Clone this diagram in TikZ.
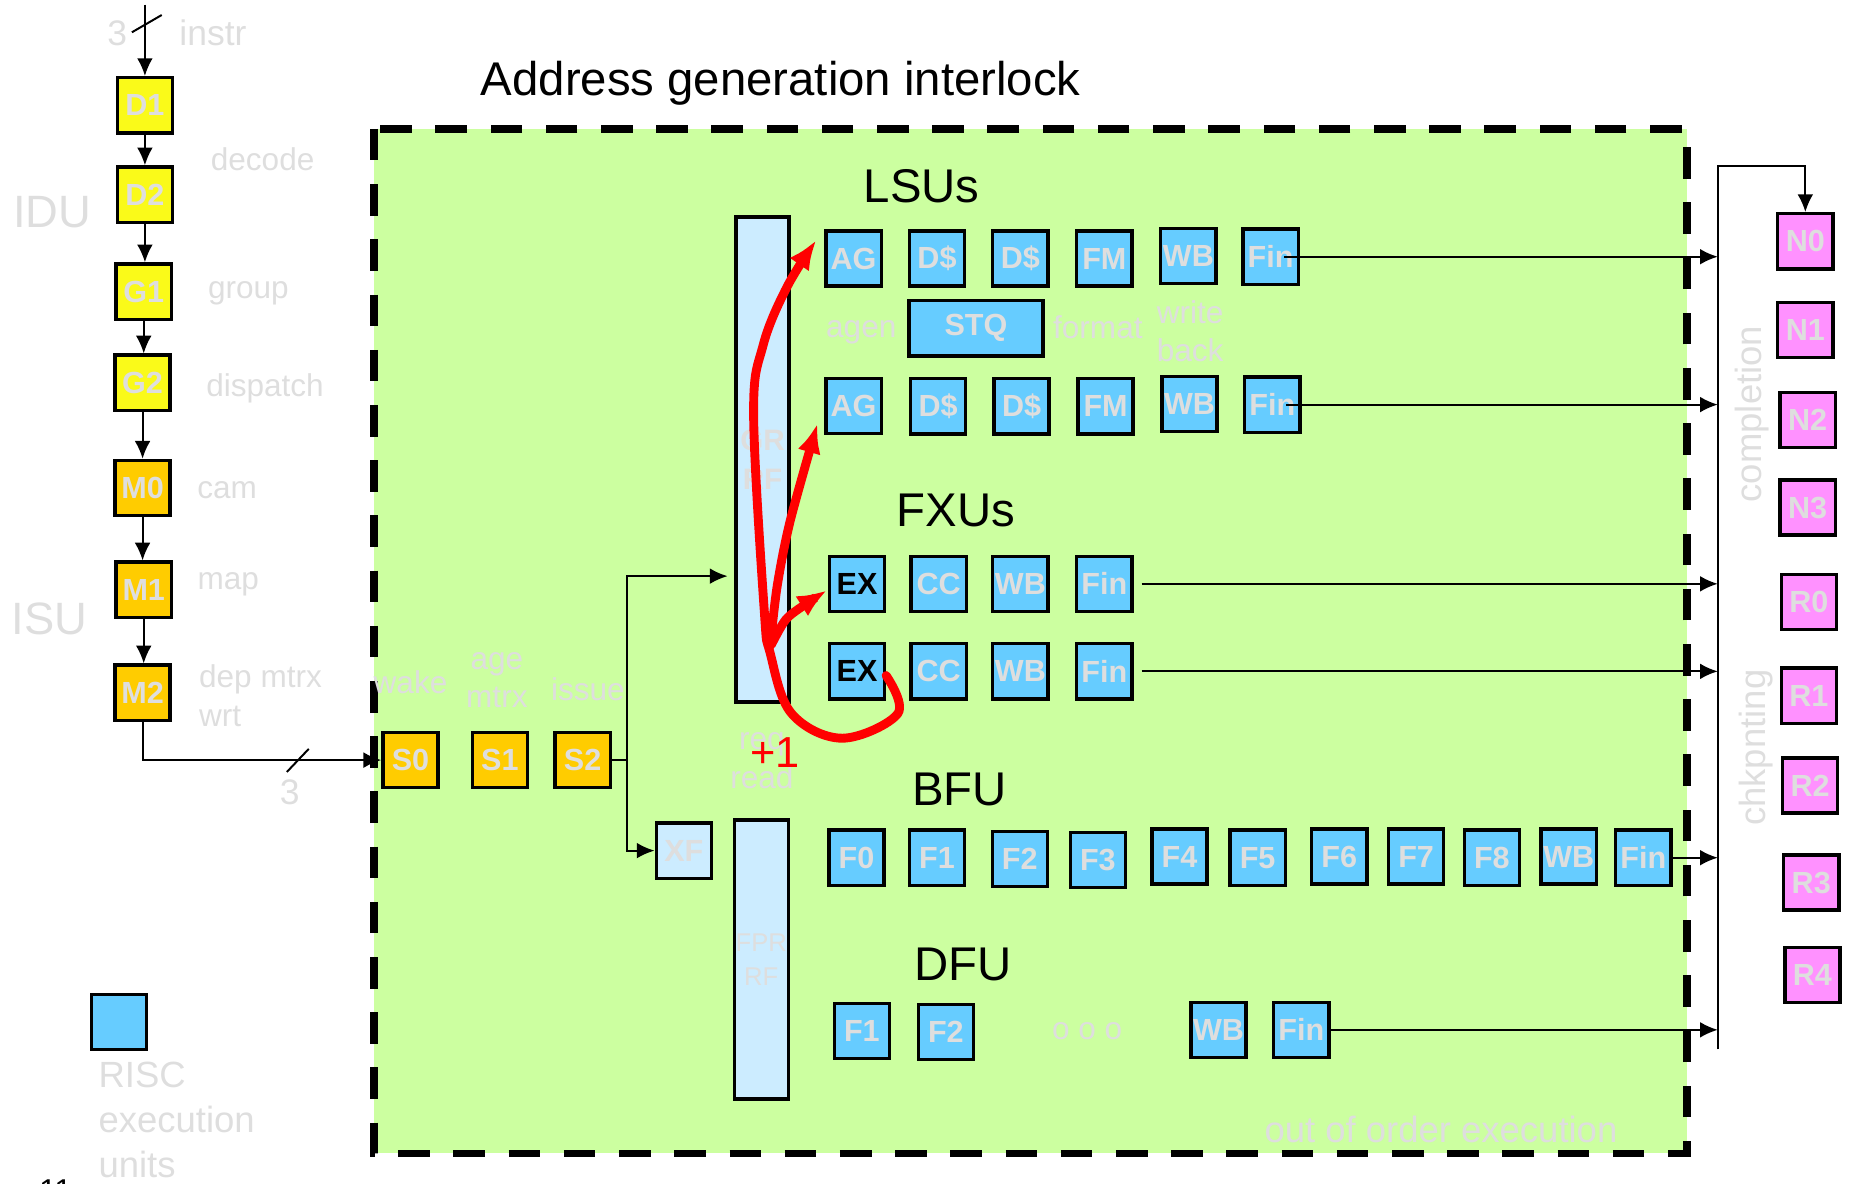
\documentclass[tikz,border=0pt]{standalone}
\usepackage{fontspec}
\setmainfont{Liberation Sans}
\usetikzlibrary{arrows.meta}

\definecolor{oooback}{RGB}{204,255,160}
\definecolor{unitblue}{RGB}{102,204,255}
\definecolor{rfblue}{RGB}{204,236,255}
\definecolor{idyellow}{RGB}{250,250,25}
\definecolor{isorange}{RGB}{255,204,0}
\definecolor{cppink}{RGB}{255,145,255}
\definecolor{faint}{RGB}{222,222,222}

\tikzset{
  stage/.style={draw=black, line width=1.7pt, minimum size=28pt, inner sep=0pt,
    font=\fontsize{15.5}{15.5}\selectfont\bfseries, text=faint},
  idbox/.style={stage, fill=idyellow},
  isbox/.style={stage, fill=isorange},
  unitbox/.style={stage, fill=unitblue},
  rfbox/.style={stage, fill=rfblue, align=center},
  cpbox/.style={stage, fill=cppink},
  note/.style={text=faint, inner sep=0pt, align=center, font=\fontsize{16}{19.5}\selectfont},
  bignote/.style={text=faint, inner sep=0pt, align=center, font=\fontsize{18.5}{22.8}\selectfont},
  heading/.style={inner sep=0pt, font=\fontsize{24}{28}\selectfont},
  arr/.style={line width=1pt, -{Latex[length=9pt,width=8pt]}},
  redarr/.style={red, line width=4.5pt, line cap=round, -{Latex[length=15pt,width=12pt]}},
  oooframe/.style={line width=4pt, dash pattern=on 16pt off 12pt}
}

\begin{document}
\begin{tikzpicture}[x=0.6pt, y=-0.6pt]
  \useasboundingbox (0,0) rectangle (1568,1000);

  % out of order window
  \fill[oooback] (316,109) rectangle (1426,975);
  \draw[oooframe] (316,109) rectangle (1426,975);

  \node[heading, anchor=base] (title) at (660,80.5) {Address generation interlock};
  \node[heading, anchor=base] (lsus) at (779,171.5) {LSUs};
  \node[heading, anchor=base] (fxus) at (808,445) {FXUs};
  \node[heading, anchor=base] (bfu) at (811,680.5) {BFU};
  \node[heading, anchor=base] (dfu) at (814,828.5) {DFU};

  % decode and issue column
  \node[idbox] (d1) at (122.5,89) {D1};
  \node[idbox] (d2) at (122.5,164.5) {D2};
  \node[idbox] (g1) at (121.5,246.5) {G1};
  \node[idbox] (g2) at (120.5,323.5) {G2};
  \node[isbox] (m0) at (120.5,412.5) {M0};
  \node[isbox] (m1) at (121.5,498.5) {M1};
  \node[isbox] (m2) at (120.5,585.5) {M2};

  \coordinate (instrin) at (122.5,4);
  \draw[arr] (instrin) -- (d1);
  \draw[line width=1pt] (111.5,27.3) -- (136.7,12.7);
  \node[bignote, font=\fontsize{18}{20}\selectfont] (ninstr) at (99,28) {3};
  \node[bignote, font=\fontsize{18}{20}\selectfont] (instr) at (180,28) {instr};

  \draw[arr] (d1.south) -- (d1.south |- d2.north);
  \draw[arr] (d2.south) -- (d2.south |- g1.north);
  \draw[arr] (g1.south) -- (g1.south |- g2.north);
  \draw[arr] (g2.south) -- (g2.south |- m0.north);
  \draw[arr] (m0.south) -- (m0.south |- m1.north);
  \draw[arr] (m1.south) -- (m1.south |- m2.north);

  \node[note] (decode) at (222,135) {decode};
  \node[note] (group) at (210,248) {group};
  \node[note] (dispatch) at (224,328) {dispatch};
  \node[note] (cam) at (192,414) {cam};
  \node[note] (map) at (193,494) {map};
  \node[note, align=left, anchor=west] (depm) at (168,588) {dep mtrx\\wrt};
  \node[note, font=\fontsize{23}{26}\selectfont] (idu) at (44,179) {IDU};
  \node[note, font=\fontsize{23}{26}\selectfont] (isu) at (42,523) {ISU};

  % issue queue
  \node[isbox] (s0) at (347,642.5) {S0};
  \node[isbox] (s1) at (422.5,642.5) {S1};
  \node[isbox] (s2) at (492.5,642.5) {S2};
  \node[note] (wake) at (347,577) {wake};
  \node[note] (age) at (420,575) {age\\mtrx};
  \node[note] (issue) at (497,583) {issue};

  \draw[arr] (m2.south) |- (s0.west);
  \draw[line width=1pt] (242.5,652.5) -- (261,633);
  \node[bignote, font=\fontsize{18}{20}\selectfont] (nissue) at (245,670) {3};

  % register files
  \node[rfbox, minimum width=27pt, minimum height=246pt,
    font=\fontsize{15}{19.5}\selectfont\bfseries] (gpr) at (644.5,388.5) {GR\\RF};
  \node[rfbox, minimum width=27.5pt, minimum height=141.5pt,
    font=\fontsize{13}{17}\selectfont] (fpr) at (643.5,811) {FPR\\RF};
  \node[rfbox] (xf) at (578,719) {XF};
  \node[note] (req) at (644,643) {req\\read};

  \coordinate (split) at (530,642.5);
  \coordinate (gprin) at (615,487);
  \draw[line width=1pt] (s2.east) -- (split);
  \draw[arr] (split) |- (gprin);
  \draw[arr] (split) |- (xf.west);

  % LSUs
  \node[unitbox] (ag1) at (721.5,218.5) {AG};
  \node[unitbox] (dc1a) at (792,218.5) {D\$};
  \node[unitbox] (dc1b) at (862.5,218.5) {D\$};
  \node[unitbox] (fm1) at (933.5,218.5) {FM};
  \node[unitbox] (lwb1) at (1004.5,216.5) {WB};
  \node[unitbox] (lfin1) at (1074,217) {Fin};
  \node[unitbox, minimum width=68pt] (stq) at (825,277.5) {STQ};
  \node[unitbox] (ag2) at (721.5,343) {AG};
  \node[unitbox] (dc2a) at (793,343.5) {D\$};
  \node[unitbox] (dc2b) at (863.5,343.5) {D\$};
  \node[unitbox] (fm2) at (934.5,343.5) {FM};
  \node[unitbox] (lwb2) at (1005.5,341.5) {WB};
  \node[unitbox] (lfin2) at (1075.5,342) {Fin};
  \node[note] (agen) at (728,281) {agen};
  \node[note] (format) at (928,277) {format};
  \node[note] (wback) at (1006,280) {write\\back};

  % FXUs
  \node[unitbox, text=black] (ex1) at (724.5,493.5) {EX};
  \node[unitbox] (cc1) at (793.5,493.5) {CC};
  \node[unitbox] (xwb1) at (862.5,493.5) {WB};
  \node[unitbox] (xfin1) at (933.5,493.5) {Fin};
  \node[unitbox, text=black] (ex2) at (724.5,567.5) {EX};
  \node[unitbox] (cc2) at (793.5,567.5) {CC};
  \node[unitbox] (xwb2) at (862.5,567.5) {WB};
  \node[unitbox] (xfin2) at (933.5,567.5) {Fin};

  % BFU
  \node[unitbox] (bf0) at (724,725) {F0};
  \node[unitbox] (bf1) at (792,725) {F1};
  \node[unitbox] (bf2) at (862,726) {F2};
  \node[unitbox] (bf3) at (928,727) {F3};
  \node[unitbox] (bf4) at (997,724) {F4};
  \node[unitbox] (bf5) at (1063,725) {F5};
  \node[unitbox] (bf6) at (1132,724) {F6};
  \node[unitbox] (bf7) at (1197,724) {F7};
  \node[unitbox] (bf8) at (1261,725) {F8};
  \node[unitbox] (bwb) at (1326,724) {WB};
  \node[unitbox] (bfin) at (1389,725) {Fin};

  % DFU
  \node[unitbox] (df1) at (728.5,871.5) {F1};
  \node[unitbox] (df2) at (799.5,872.5) {F2};
  \node[note] (dots) at (919,872) {o o o};
  \node[unitbox] (dwb) at (1030,870.5) {WB};
  \node[unitbox] (dfin) at (1100,870.5) {Fin};

  \node[bignote] (ooo) at (1218,955) {out of order execution};

  % completion and checkpoint
  \node[cpbox] (n0) at (1526,204) {N0};
  \node[cpbox] (n1) at (1526,279) {N1};
  \node[cpbox] (n2) at (1528,355) {N2};
  \node[cpbox] (n3) at (1528,429) {N3};
  \node[cpbox] (r0) at (1529,509) {R0};
  \node[cpbox] (r1) at (1529,588) {R1};
  \node[cpbox] (r2) at (1530,664) {R2};
  \node[cpbox] (r3) at (1531,746) {R3};
  \node[cpbox] (r4) at (1532,824) {R4};
  \node[bignote, rotate=90] (compl) at (1481,350) {completion};
  \node[bignote, rotate=90] (chkp) at (1484,632) {chkpnting};

  \coordinate (bustop) at (1452,140);
  \coordinate (busbot) at (1452,887);
  \draw[arr] (busbot) -- (bustop) -| (n0.north);
  \draw[arr] ([xshift=-8pt]lfin1.east) -- (lfin1.east -| bustop);
  \draw[arr] ([xshift=-8pt]lfin2.east) -- (lfin2.east -| bustop);
  \draw[arr] ([xshift=4pt]xfin1.east) -- (xfin1.east -| bustop);
  \draw[arr] ([xshift=4pt]xfin2.east) -- (xfin2.east -| bustop);
  \draw[arr] (bfin.east) -- (bfin.east -| bustop);
  \draw[arr] (dfin.east) -- (dfin.east -| bustop);

  % legend
  \node[unitbox] (risc) at (100.5,864) {};
  \node[bignote, align=left, anchor=west] (risclbl) at (83,946.5) {RISC\\execution\\units};
  \node[anchor=base, font=\fontsize{16}{16}\selectfont] (pageno) at (47,1016) {11};

  % AGI bypass
  \draw[redarr] plot[smooth, tension=0.6] coordinates {(749,571) (759,603) (712,624)
    (669,603) (651,552) (646,516) (637,350) (645,292) (665,243) (690,203)};
  \draw[redarr] plot[smooth] coordinates {(651,546) (657,495) (668,440) (691,358)};
  \draw[redarr] plot[smooth] coordinates {(652,545) (664,524) (679,512) (699,499)};
  \node[red, inner sep=0pt, font=\fontsize{22}{24}\selectfont] (plusone) at (655,636) {+1};
\end{tikzpicture}
\end{document}
